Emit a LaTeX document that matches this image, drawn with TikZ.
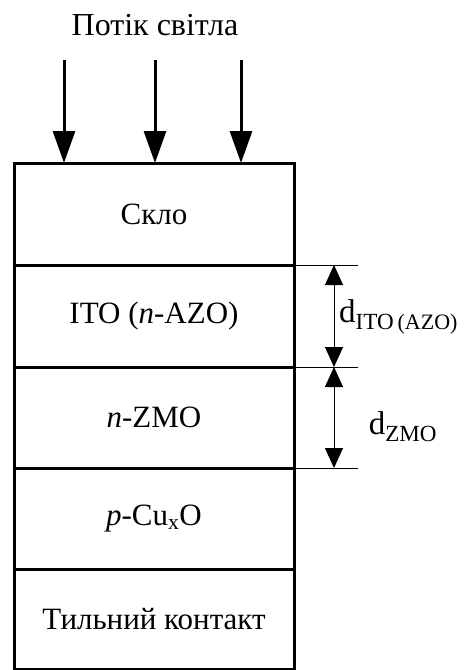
\documentclass[tikz,border=0pt]{standalone}
\usepackage{fontspec}
\setmainfont{Liberation Serif}
\usetikzlibrary{arrows.meta}
\begin{document}
\begin{tikzpicture}[x=1pt,y=1pt,
  layer/.style={draw, line width=3pt, outer sep=0pt, minimum width=280pt, inner sep=0pt, font=\fontsize{31}{34}\selectfont, anchor=north},
  light/.style={line width=3pt, -{Triangle[length=32pt,width=22pt]}},
  ext/.style={line width=1pt},
  dim/.style={line width=1pt, {Triangle[length=20pt,width=18pt]}-{Triangle[length=20pt,width=18pt]}},
  lbl/.style={font=\fontsize{33}{36}\selectfont, inner sep=0pt}]
\useasboundingbox (0,0) rectangle (464,-670);
\node[layer, minimum height=102pt] (l1) at (154,-163) {Скло};
\node[layer, minimum height=102pt] (l2) at (l1.south) {ITO (\textit{n}-AZO)};
\node[layer, minimum height=101pt] (l3) at (l2.south) {\textit{n}-ZMO};
\node[layer, minimum height=101pt] (l4) at (l3.south) {\textit{p}-Cu\textsubscript{x}O};
\node[layer, minimum height=100pt] (l5) at (l4.south) {Тильний контакт};
\node[font=\fontsize{32}{35}\selectfont] (title) at (155,-25) {Потік світла};
\coordinate (a1) at (64,-60);
\coordinate (a2) at (155,-60);
\coordinate (a3) at (241,-60);
\draw[light] (a1) -- (a1 |- l1.north);
\draw[light] (a2) -- (a2 |- l1.north);
\draw[light] (a3) -- (a3 |- l1.north);
\coordinate (e1) at ([xshift=64pt]l2.north east);
\coordinate (e2) at ([xshift=64pt]l3.north east);
\coordinate (e3) at ([xshift=64pt]l4.north east);
\draw[ext] (l2.north east) -- (e1);
\draw[ext] (l3.north east) -- (e2);
\draw[ext] (l4.north east) -- (e3);
\coordinate (d1) at ([xshift=40pt]l2.north east);
\coordinate (d2) at ([xshift=40pt]l3.north east);
\coordinate (d3) at ([xshift=40pt]l4.north east);
\draw[dim] (d1) -- (d2);
\draw[dim] (d2) -- (d3);
\node[lbl, anchor=west] (t1) at (339,-317) {d\textsubscript{ITO\,\fontsize{22}{24}\selectfont(AZO)}};
\node[lbl] (t2) at (403,-427) {d\textsubscript{ZMO}};
\end{tikzpicture}
\end{document}
